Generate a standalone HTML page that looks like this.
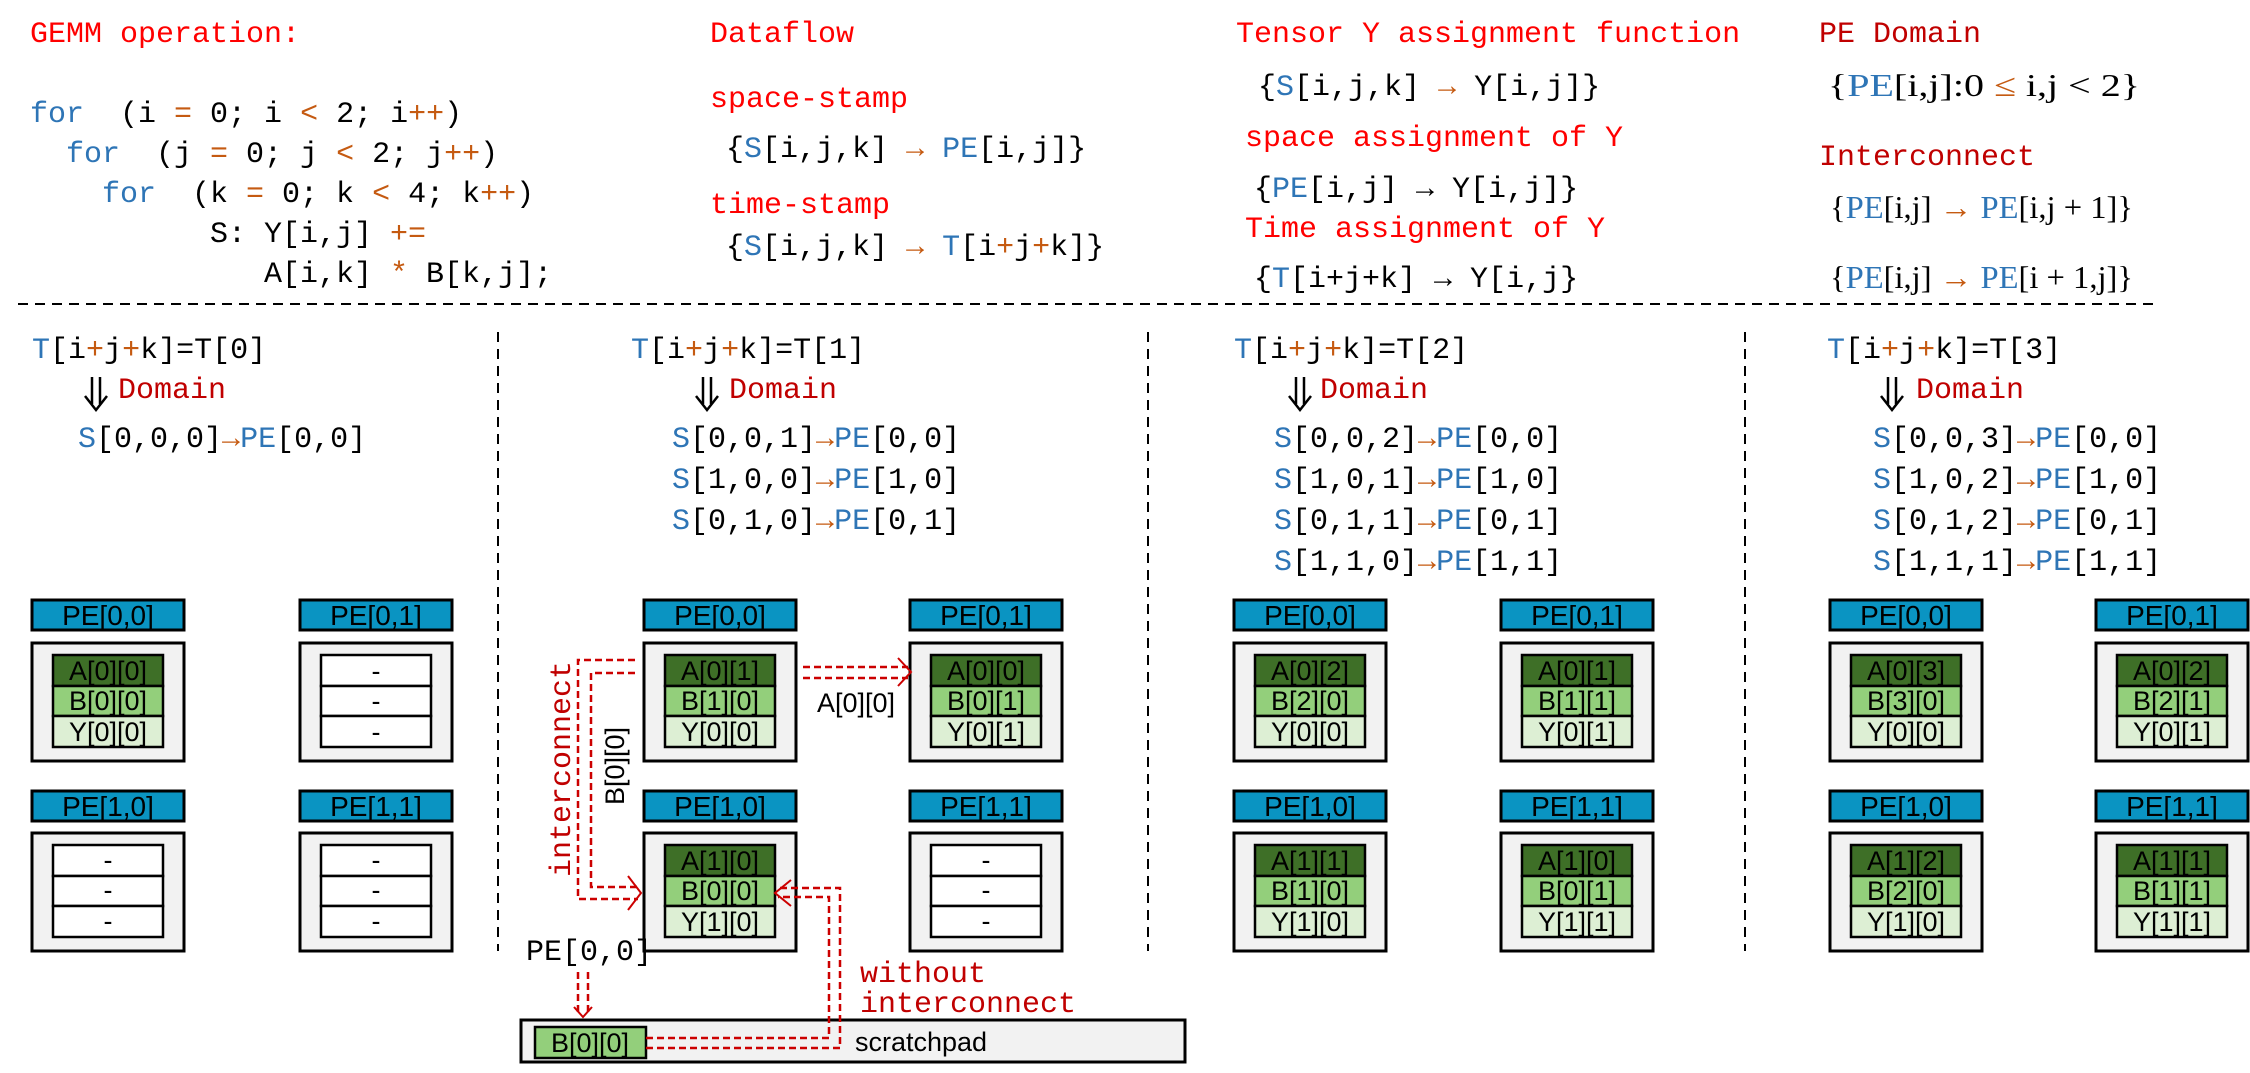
<!DOCTYPE html>
<html><head><meta charset="utf-8"><style>
html,body{margin:0;padding:0;background:#fff;}
svg{display:block;}
.m{font-family:"Liberation Mono",monospace;font-size:30px;fill:#000;white-space:pre;}
.r{fill:#ff0000;}
.dr{fill:#c00000;}
.bl{fill:#2e75b6;}
.or{fill:#c55a11;}
.sf{font-family:"Liberation Serif",serif;font-size:32px;fill:#000;}
.h{fill:#0a94c2;stroke:#000;stroke-width:3;}
.b{fill:#f2f2f2;stroke:#000;stroke-width:3;}
.ca{fill:#3e6f27;stroke:#000;stroke-width:2.5;}
.cb{fill:#93cf7b;stroke:#000;stroke-width:2.5;}
.cy{fill:#ddefd4;stroke:#000;stroke-width:2.5;}
.cw{fill:#fff;stroke:#000;stroke-width:2.5;}
.t{font-family:"Liberation Sans",sans-serif;font-size:27px;fill:#000;text-anchor:middle;}
.ht{font-family:"Liberation Sans",sans-serif;font-size:28px;fill:#000;text-anchor:middle;}
.rd{fill:none;stroke:#cc0000;stroke-width:2.5;stroke-dasharray:7 4;}
.rs{fill:none;stroke:#cc0000;stroke-width:2;}
.vd{stroke:#000;stroke-width:2;stroke-dasharray:10 7;}
.da{fill:none;stroke:#000;stroke-width:2.5;}
</style></head><body>
<svg width="2250" height="1073" viewBox="0 0 2250 1073" xmlns="http://www.w3.org/2000/svg">
<!-- top section -->
<text class="m r" x="30" y="42">GEMM operation:</text>
<text class="m" x="30" y="122"><tspan class="bl">for</tspan>  (i <tspan class="or">=</tspan> 0; i <tspan class="or">&lt;</tspan> 2; i<tspan class="or">++</tspan>)</text>
<text class="m" x="66" y="162"><tspan class="bl">for</tspan>  (j <tspan class="or">=</tspan> 0; j <tspan class="or">&lt;</tspan> 2; j<tspan class="or">++</tspan>)</text>
<text class="m" x="102" y="202"><tspan class="bl">for</tspan>  (k <tspan class="or">=</tspan> 0; k <tspan class="or">&lt;</tspan> 4; k<tspan class="or">++</tspan>)</text>
<text class="m" x="210" y="242">S: Y[i,j] <tspan class="or">+=</tspan></text>
<text class="m" x="264" y="282">A[i,k] <tspan class="or">*</tspan> B[k,j];</text>

<text class="m r" x="710" y="42">Dataflow</text>
<text class="m r" x="710" y="107">space-stamp</text>
<text class="m" x="726" y="157">{<tspan class="bl">S</tspan>[i,j,k] <tspan class="or">→</tspan> <tspan class="bl">PE</tspan>[i,j]}</text>
<text class="m r" x="710" y="213">time-stamp</text>
<text class="m" x="726" y="255">{<tspan class="bl">S</tspan>[i,j,k] <tspan class="or">→</tspan> <tspan class="bl">T</tspan>[i<tspan class="or">+</tspan>j<tspan class="or">+</tspan>k]}</text>

<text class="m r" x="1236" y="42">Tensor Y assignment function</text>
<text class="m" x="1258" y="95">{<tspan class="bl">S</tspan>[i,j,k] <tspan class="or">→</tspan> Y[i,j]}</text>
<text class="m r" x="1245" y="146">space assignment of Y</text>
<text class="m" x="1254" y="197">{<tspan class="bl">PE</tspan>[i,j] → Y[i,j]}</text>
<text class="m r" x="1245" y="237">Time assignment of Y</text>
<text class="m" x="1254" y="287">{<tspan class="bl">T</tspan>[i+j+k] → Y[i,j}</text>

<text class="m dr" x="1819" y="42">PE Domain</text>
<text class="sf" x="1828" y="96" textLength="312" lengthAdjust="spacingAndGlyphs">{<tspan class="bl">PE</tspan>[i,j]:0 <tspan class="or">≤</tspan> i,j &lt; 2}</text>
<text class="m dr" x="1819" y="165">Interconnect</text>
<text class="sf" x="1830" y="218" textLength="303" lengthAdjust="spacingAndGlyphs">{<tspan class="bl">PE</tspan>[i,j] <tspan class="or">→</tspan> <tspan class="bl">PE</tspan>[i,j + 1]}</text>
<text class="sf" x="1830" y="288" textLength="303" lengthAdjust="spacingAndGlyphs">{<tspan class="bl">PE</tspan>[i,j] <tspan class="or">→</tspan> <tspan class="bl">PE</tspan>[i + 1,j]}</text>

<line class="vd" x1="18" y1="304" x2="2160" y2="304" stroke-dasharray="8 6"/>
<line class="vd" x1="498" y1="332" x2="498" y2="951"/>
<line class="vd" x1="1148" y1="332" x2="1148" y2="951"/>
<line class="vd" x1="1745" y1="332" x2="1745" y2="951"/>

<!-- double down arrows -->
<g class="da"><line x1="92" y1="377" x2="92" y2="404"/><line x1="100" y1="377" x2="100" y2="404"/><polyline points="85,396 96,410 107,396"/></g>
<g class="da"><line x1="703" y1="377" x2="703" y2="404"/><line x1="711" y1="377" x2="711" y2="404"/><polyline points="696,396 707,410 718,396"/></g>
<g class="da"><line x1="1296" y1="377" x2="1296" y2="404"/><line x1="1304" y1="377" x2="1304" y2="404"/><polyline points="1289,396 1300,410 1311,396"/></g>
<g class="da"><line x1="1888" y1="377" x2="1888" y2="404"/><line x1="1896" y1="377" x2="1896" y2="404"/><polyline points="1881,396 1892,410 1903,396"/></g>

<!-- panel headers -->
<text class="m" x="32" y="358"><tspan class="bl">T</tspan>[i<tspan class="or">+</tspan>j<tspan class="or">+</tspan>k]=T[0]</text>
<text class="m dr" x="118" y="398" font-size="29">Domain</text>
<text class="m" x="78" y="447" font-size="29"><tspan class="bl">S</tspan>[0,0,0]<tspan class="or">→</tspan><tspan class="bl">PE</tspan>[0,0]</text>

<text class="m" x="631" y="358"><tspan class="bl">T</tspan>[i<tspan class="or">+</tspan>j<tspan class="or">+</tspan>k]=T[1]</text>
<text class="m dr" x="729" y="398" font-size="29">Domain</text>
<text class="m" x="672" y="447" font-size="29"><tspan class="bl">S</tspan>[0,0,1]<tspan class="or">→</tspan><tspan class="bl">PE</tspan>[0,0]</text>
<text class="m" x="672" y="488" font-size="29"><tspan class="bl">S</tspan>[1,0,0]<tspan class="or">→</tspan><tspan class="bl">PE</tspan>[1,0]</text>
<text class="m" x="672" y="529" font-size="29"><tspan class="bl">S</tspan>[0,1,0]<tspan class="or">→</tspan><tspan class="bl">PE</tspan>[0,1]</text>

<text class="m" x="1234" y="358"><tspan class="bl">T</tspan>[i<tspan class="or">+</tspan>j<tspan class="or">+</tspan>k]=T[2]</text>
<text class="m dr" x="1320" y="398" font-size="29">Domain</text>
<text class="m" x="1274" y="447" font-size="29"><tspan class="bl">S</tspan>[0,0,2]<tspan class="or">→</tspan><tspan class="bl">PE</tspan>[0,0]</text>
<text class="m" x="1274" y="488" font-size="29"><tspan class="bl">S</tspan>[1,0,1]<tspan class="or">→</tspan><tspan class="bl">PE</tspan>[1,0]</text>
<text class="m" x="1274" y="529" font-size="29"><tspan class="bl">S</tspan>[0,1,1]<tspan class="or">→</tspan><tspan class="bl">PE</tspan>[0,1]</text>
<text class="m" x="1274" y="570" font-size="29"><tspan class="bl">S</tspan>[1,1,0]<tspan class="or">→</tspan><tspan class="bl">PE</tspan>[1,1]</text>

<text class="m" x="1827" y="358"><tspan class="bl">T</tspan>[i<tspan class="or">+</tspan>j<tspan class="or">+</tspan>k]=T[3]</text>
<text class="m dr" x="1916" y="398" font-size="29">Domain</text>
<text class="m" x="1873" y="447" font-size="29"><tspan class="bl">S</tspan>[0,0,3]<tspan class="or">→</tspan><tspan class="bl">PE</tspan>[0,0]</text>
<text class="m" x="1873" y="488" font-size="29"><tspan class="bl">S</tspan>[1,0,2]<tspan class="or">→</tspan><tspan class="bl">PE</tspan>[1,0]</text>
<text class="m" x="1873" y="529" font-size="29"><tspan class="bl">S</tspan>[0,1,2]<tspan class="or">→</tspan><tspan class="bl">PE</tspan>[0,1]</text>
<text class="m" x="1873" y="570" font-size="29"><tspan class="bl">S</tspan>[1,1,1]<tspan class="or">→</tspan><tspan class="bl">PE</tspan>[1,1]</text>

<!-- Panel 1 -->
<g transform="translate(32,0)">
<rect class="h" x="0" y="600" width="152" height="30"/><text class="ht" x="76" y="625">PE[0,0]</text>
<rect class="b" x="0" y="643" width="152" height="118"/>
<rect class="ca" x="21" y="655" width="110" height="31"/><rect class="cb" x="21" y="686" width="110" height="30"/><rect class="cy" x="21" y="716" width="110" height="31"/>
<text class="t" x="76" y="680">A[0][0]</text><text class="t" x="76" y="710">B[0][0]</text><text class="t" x="76" y="741">Y[0][0]</text>
<rect class="h" x="0" y="791" width="152" height="30"/><text class="ht" x="76" y="816">PE[1,0]</text>
<rect class="b" x="0" y="833" width="152" height="118"/>
<rect class="cw" x="21" y="845" width="110" height="31"/><rect class="cw" x="21" y="876" width="110" height="30"/><rect class="cw" x="21" y="906" width="110" height="31"/>
<text class="t" x="76" y="869">-</text><text class="t" x="76" y="899">-</text><text class="t" x="76" y="930">-</text>
</g>
<g transform="translate(300,0)">
<rect class="h" x="0" y="600" width="152" height="30"/><text class="ht" x="76" y="625">PE[0,1]</text>
<rect class="b" x="0" y="643" width="152" height="118"/>
<rect class="cw" x="21" y="655" width="110" height="31"/><rect class="cw" x="21" y="686" width="110" height="30"/><rect class="cw" x="21" y="716" width="110" height="31"/>
<text class="t" x="76" y="680">-</text><text class="t" x="76" y="710">-</text><text class="t" x="76" y="741">-</text>
<rect class="h" x="0" y="791" width="152" height="30"/><text class="ht" x="76" y="816">PE[1,1]</text>
<rect class="b" x="0" y="833" width="152" height="118"/>
<rect class="cw" x="21" y="845" width="110" height="31"/><rect class="cw" x="21" y="876" width="110" height="30"/><rect class="cw" x="21" y="906" width="110" height="31"/>
<text class="t" x="76" y="869">-</text><text class="t" x="76" y="899">-</text><text class="t" x="76" y="930">-</text>
</g>
<!-- Panel 2 -->
<g transform="translate(644,0)">
<rect class="h" x="0" y="600" width="152" height="30"/><text class="ht" x="76" y="625">PE[0,0]</text>
<rect class="b" x="0" y="643" width="152" height="118"/>
<rect class="ca" x="21" y="655" width="110" height="31"/><rect class="cb" x="21" y="686" width="110" height="30"/><rect class="cy" x="21" y="716" width="110" height="31"/>
<text class="t" x="76" y="680">A[0][1]</text><text class="t" x="76" y="710">B[1][0]</text><text class="t" x="76" y="741">Y[0][0]</text>
<rect class="h" x="0" y="791" width="152" height="30"/><text class="ht" x="76" y="816">PE[1,0]</text>
<rect class="b" x="0" y="833" width="152" height="118"/>
<rect class="ca" x="21" y="845" width="110" height="31"/><rect class="cb" x="21" y="876" width="110" height="30"/><rect class="cy" x="21" y="906" width="110" height="31"/>
<text class="t" x="76" y="870">A[1][0]</text><text class="t" x="76" y="900">B[0][0]</text><text class="t" x="76" y="931">Y[1][0]</text>
</g>
<g transform="translate(910,0)">
<rect class="h" x="0" y="600" width="152" height="30"/><text class="ht" x="76" y="625">PE[0,1]</text>
<rect class="b" x="0" y="643" width="152" height="118"/>
<rect class="ca" x="21" y="655" width="110" height="31"/><rect class="cb" x="21" y="686" width="110" height="30"/><rect class="cy" x="21" y="716" width="110" height="31"/>
<text class="t" x="76" y="680">A[0][0]</text><text class="t" x="76" y="710">B[0][1]</text><text class="t" x="76" y="741">Y[0][1]</text>
<rect class="h" x="0" y="791" width="152" height="30"/><text class="ht" x="76" y="816">PE[1,1]</text>
<rect class="b" x="0" y="833" width="152" height="118"/>
<rect class="cw" x="21" y="845" width="110" height="31"/><rect class="cw" x="21" y="876" width="110" height="30"/><rect class="cw" x="21" y="906" width="110" height="31"/>
<text class="t" x="76" y="869">-</text><text class="t" x="76" y="899">-</text><text class="t" x="76" y="930">-</text>
</g>
<!-- Panel 3 -->
<g transform="translate(1234,0)">
<rect class="h" x="0" y="600" width="152" height="30"/><text class="ht" x="76" y="625">PE[0,0]</text>
<rect class="b" x="0" y="643" width="152" height="118"/>
<rect class="ca" x="21" y="655" width="110" height="31"/><rect class="cb" x="21" y="686" width="110" height="30"/><rect class="cy" x="21" y="716" width="110" height="31"/>
<text class="t" x="76" y="680">A[0][2]</text><text class="t" x="76" y="710">B[2][0]</text><text class="t" x="76" y="741">Y[0][0]</text>
<rect class="h" x="0" y="791" width="152" height="30"/><text class="ht" x="76" y="816">PE[1,0]</text>
<rect class="b" x="0" y="833" width="152" height="118"/>
<rect class="ca" x="21" y="845" width="110" height="31"/><rect class="cb" x="21" y="876" width="110" height="30"/><rect class="cy" x="21" y="906" width="110" height="31"/>
<text class="t" x="76" y="870">A[1][1]</text><text class="t" x="76" y="900">B[1][0]</text><text class="t" x="76" y="931">Y[1][0]</text>
</g>
<g transform="translate(1501,0)">
<rect class="h" x="0" y="600" width="152" height="30"/><text class="ht" x="76" y="625">PE[0,1]</text>
<rect class="b" x="0" y="643" width="152" height="118"/>
<rect class="ca" x="21" y="655" width="110" height="31"/><rect class="cb" x="21" y="686" width="110" height="30"/><rect class="cy" x="21" y="716" width="110" height="31"/>
<text class="t" x="76" y="680">A[0][1]</text><text class="t" x="76" y="710">B[1][1]</text><text class="t" x="76" y="741">Y[0][1]</text>
<rect class="h" x="0" y="791" width="152" height="30"/><text class="ht" x="76" y="816">PE[1,1]</text>
<rect class="b" x="0" y="833" width="152" height="118"/>
<rect class="ca" x="21" y="845" width="110" height="31"/><rect class="cb" x="21" y="876" width="110" height="30"/><rect class="cy" x="21" y="906" width="110" height="31"/>
<text class="t" x="76" y="870">A[1][0]</text><text class="t" x="76" y="900">B[0][1]</text><text class="t" x="76" y="931">Y[1][1]</text>
</g>
<!-- Panel 4 -->
<g transform="translate(1830,0)">
<rect class="h" x="0" y="600" width="152" height="30"/><text class="ht" x="76" y="625">PE[0,0]</text>
<rect class="b" x="0" y="643" width="152" height="118"/>
<rect class="ca" x="21" y="655" width="110" height="31"/><rect class="cb" x="21" y="686" width="110" height="30"/><rect class="cy" x="21" y="716" width="110" height="31"/>
<text class="t" x="76" y="680">A[0][3]</text><text class="t" x="76" y="710">B[3][0]</text><text class="t" x="76" y="741">Y[0][0]</text>
<rect class="h" x="0" y="791" width="152" height="30"/><text class="ht" x="76" y="816">PE[1,0]</text>
<rect class="b" x="0" y="833" width="152" height="118"/>
<rect class="ca" x="21" y="845" width="110" height="31"/><rect class="cb" x="21" y="876" width="110" height="30"/><rect class="cy" x="21" y="906" width="110" height="31"/>
<text class="t" x="76" y="870">A[1][2]</text><text class="t" x="76" y="900">B[2][0]</text><text class="t" x="76" y="931">Y[1][0]</text>
</g>
<g transform="translate(2096,0)">
<rect class="h" x="0" y="600" width="152" height="30"/><text class="ht" x="76" y="625">PE[0,1]</text>
<rect class="b" x="0" y="643" width="152" height="118"/>
<rect class="ca" x="21" y="655" width="110" height="31"/><rect class="cb" x="21" y="686" width="110" height="30"/><rect class="cy" x="21" y="716" width="110" height="31"/>
<text class="t" x="76" y="680">A[0][2]</text><text class="t" x="76" y="710">B[2][1]</text><text class="t" x="76" y="741">Y[0][1]</text>
<rect class="h" x="0" y="791" width="152" height="30"/><text class="ht" x="76" y="816">PE[1,1]</text>
<rect class="b" x="0" y="833" width="152" height="118"/>
<rect class="ca" x="21" y="845" width="110" height="31"/><rect class="cb" x="21" y="876" width="110" height="30"/><rect class="cy" x="21" y="906" width="110" height="31"/>
<text class="t" x="76" y="870">A[1][1]</text><text class="t" x="76" y="900">B[1][1]</text><text class="t" x="76" y="931">Y[1][1]</text>
</g>

<!-- Panel 2 arrows -->
<line class="rd" x1="803" y1="667" x2="908" y2="667"/>
<line class="rd" x1="803" y1="678" x2="908" y2="678"/>
<polyline class="rs" points="898,658 911,672 898,686"/>
<text class="t" x="856" y="712">A[0][0]</text>
<polyline class="rd" points="635,660 578,660 578,899 638,899"/>
<polyline class="rd" points="635,673 591,673 591,887 638,887"/>
<polyline class="rs" points="628,876 641,893 628,910"/>
<text class="m dr" font-size="24" transform="translate(570,769) rotate(-90)" text-anchor="middle">interconnect</text>
<text class="t" transform="translate(624,766) rotate(-90)">B[0][0]</text>
<text class="m" x="526" y="960" font-size="25">PE[0,0]</text>
<line class="rd" x1="578" y1="972" x2="578" y2="1013"/>
<line class="rd" x1="588" y1="972" x2="588" y2="1013"/>
<polyline class="rs" points="574,1007 583,1017 592,1007"/>
<rect class="b" x="521" y="1020" width="664" height="42"/>
<rect class="cb" x="535" y="1027" width="111" height="31" stroke-width="3"/>
<text class="t" x="590" y="1052">B[0][0]</text>
<text class="t" x="921" y="1051" font-size="28">scratchpad</text>
<polyline class="rd" points="646,1038 829,1038 829,897 778,897"/>
<polyline class="rd" points="646,1048 840,1048 840,888 778,888"/>
<polyline class="rs" points="791,880 775,893 791,906"/>
<text class="m dr" x="860" y="982" font-size="23">without</text>
<text class="m dr" x="860" y="1012" font-size="23">interconnect</text>
</svg>
</body></html>
